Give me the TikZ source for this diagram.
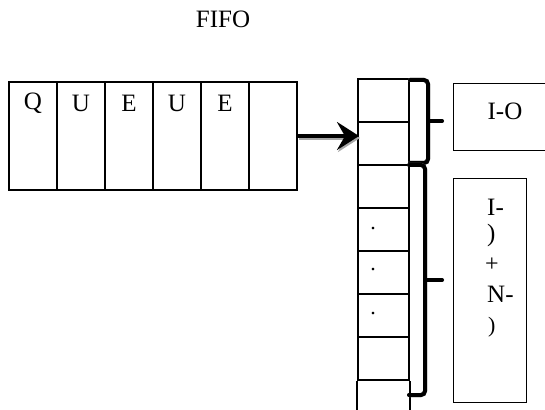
\documentclass[tikz,border=0pt]{standalone}
\usepackage{fontspec}
\setmainfont{Liberation Serif}
\usetikzlibrary{arrows.meta}
\begin{document}
\begin{tikzpicture}[x=1pt,y=1pt,
  cell/.style={draw=black,line width=2pt,minimum width=48pt,minimum height=108pt,inner sep=0pt,anchor=south west},
  scell/.style={draw=black,line width=2pt,minimum width=51pt,minimum height=43pt,inner sep=0pt,anchor=north west},
  letter/.style={font=\fontsize{25}{27}\selectfont,inner sep=0pt},
  tbox/.style={draw=black,line width=1pt,inner sep=0pt,anchor=north west},
  brace/.style={line width=4pt,rounded corners=4pt,line cap=round},
  braceshadow/.style={brace,draw=gray!70},
  txt/.style={font=\fontsize{25}{27}\selectfont,inner sep=0pt},
  dot/.style={font=\fontsize{22}{24}\selectfont,inner sep=0pt}]
\clip (0,0) rectangle (545,409);
\fill[white] (0,0) rectangle (545,409);
% title
\node[letter] (title) at (223,390) {FIFO};
% queue cells
\foreach \i/\l in {1/Q,2/U,3/E,4/U,5/E,6/{}}{
  \node[cell] (q\i) at ({8+48*(\i-1)},218) {};
  \node[letter] (ql\i) at ([yshift=-22pt]q\i.north) {\l};
}
% stack cells
\foreach \i in {1,...,7}{
  \node[scell] (s\i) at (357,{331-43*(\i-1)}) {};
}
\coordinate (sb1) at (s7.south west);
\coordinate (sb2) at (s7.south east);
\draw[line width=2pt] (sb1) -- ++(0,-35);
\draw[line width=2pt] (sb2) -- ++(0,-35);
% dots
\node[dot] (d1) at (373,180) {.};
\node[dot] (d2) at (373,139) {.};
\node[dot] (d3) at (373,95) {.};
% arrow
\coordinate (aend) at (q6.east -| s2.west);
\draw[line width=5pt,gray!70,-{Stealth[length=22pt,width=28pt,inset=8pt]}] ([xshift=1pt,yshift=-2pt]q6.east) -- ([xshift=3pt,yshift=-2pt]aend);
\draw[line width=4pt,black,-{Stealth[length=22pt,width=28pt,inset=8pt]}] (q6.east) -- ([xshift=2pt]aend);
% brace 1
\coordinate (b1t) at (410,329);
\coordinate (b1m) at (428,288);
\coordinate (b1b) at (410,246);
\draw[braceshadow,xshift=1.5pt,yshift=-1.5pt] (b1t) -- (b1m |- b1t) -- (b1m |- b1b) -- (b1b);
\draw[braceshadow,xshift=1.5pt,yshift=-1.5pt] (b1m) -- ++(14,0);
\draw[brace] (b1t) -- (b1m |- b1t) -- (b1m |- b1b) -- (b1b);
\draw[brace] (b1m) -- ++(14,0);
% brace 2
\coordinate (b2t) at (409,244);
\coordinate (b2m) at (425,129);
\coordinate (b2b) at (409,14);
\draw[braceshadow,xshift=1.5pt,yshift=-1.5pt] (b2t) -- (b2m |- b2t) -- (b2m |- b2b) -- (b2b);
\draw[braceshadow,xshift=1.5pt,yshift=-1.5pt] (b2m) -- ++(17,0);
\draw[brace] (b2t) -- (b2m |- b2t) -- (b2m |- b2b) -- (b2b);
\draw[brace] (b2m) -- ++(17,0);
% text boxes
\node[tbox,minimum width=100pt,minimum height=67pt] (box1) at (453,326) {};
\node[txt] (t1) at (505,298) {I-O};
\node[tbox,minimum width=73pt,minimum height=224pt] (box2) at (453,231) {};
\node[txt,anchor=west] (u1) at (487,202) {I-};
\node[txt,anchor=west] (u2) at (487,174) {)};
\node[txt,anchor=west,font=\fontsize{24}{26}\selectfont] (u3) at (485,144) {+};
\node[txt,anchor=west] (u4) at (487,115) {N-};
\node[txt,anchor=west,font=\fontsize{22}{24}\selectfont] (u5) at (488,82) {)};
\end{tikzpicture}
\end{document}
